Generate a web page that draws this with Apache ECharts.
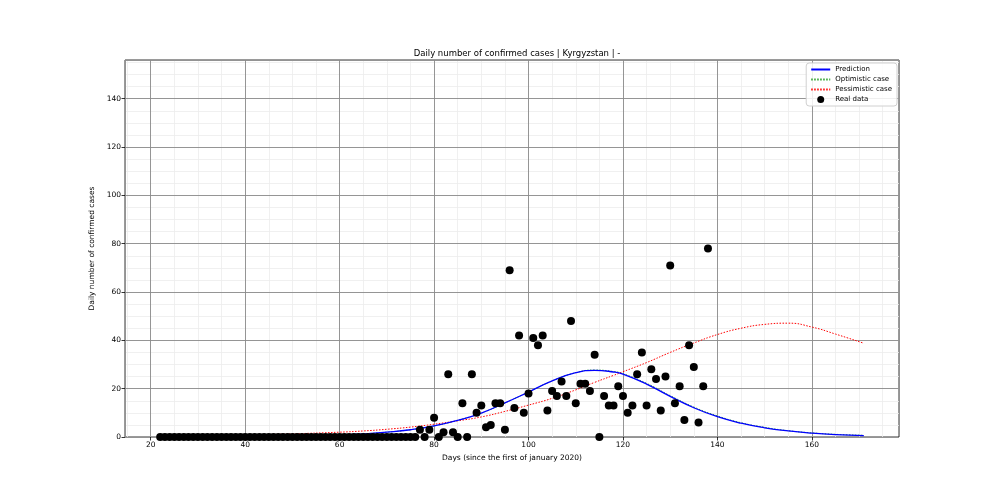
<!DOCTYPE html>
<html>
<head>
<meta charset="utf-8">
<script src="https://cdn.jsdelivr.net/npm/echarts@6/dist/echarts.min.js"></script>
<style>
  html, body { margin: 0; padding: 0; background: #fff; }
  #main { width: 1000px; height: 500px; }
</style>
</head>
<body>
<div id="main"></div>
<script>
// real data: one value per day, starting at day 22
const firstDay = 22;
const dailyCases = [
  0, 0, 0, 0, 0, 0, 0, 0, 0, 0, 0, 0, 0, 0, 0, 0, 0, 0, 0, 0,
  0, 0, 0, 0, 0, 0, 0, 0, 0, 0, 0, 0, 0, 0, 0, 0, 0, 0, 0, 0,
  0, 0, 0, 0, 0, 0, 0, 0, 0, 0, 0, 0, 0, 0, 0,
  3, 0, 3, 8, 0, 2, 26, 2, 0, 14, 0, 26, 10, 13, 4, 5, 14, 14, 3, 69,
  12, 42, 10, 18, 41, 38, 42, 11, 19, 17, 23, 17, 48, 14, 22, 22, 19, 34, 0, 17,
  13, 13, 21, 17, 10, 13, 26, 35, 13, 28, 24, 11, 25, 71, 14, 21, 7, 38, 29, 6,
  21, 78
];

// model curves
const curveDays = [22, 30, 40, 50, 60, 65, 70, 75, 80, 85, 90, 95, 100, 105, 110, 114,
  118, 120, 125, 130, 135, 140, 145, 150, 155, 160, 165, 171];
const prediction = [0.0, 0.1, 0.1, 0.3, 0.8, 1.3, 2.0, 3.0, 4.6, 6.9, 9.9, 14.1, 18.6, 23.2, 26.6, 27.6,
  26.9, 26.0, 21.9, 16.8, 12.1, 8.4, 5.7, 3.8, 2.5, 1.6, 1.0, 0.6];
const optimistic = [0.0, 0.1, 0.1, 0.3, 0.8, 1.3, 2.0, 3.0, 4.6, 6.9, 9.9, 14.1, 18.6, 23.2, 26.6, 27.7,
  27.1, 26.2, 22.2, 17.1, 12.4, 8.7, 5.9, 4.0, 2.6, 1.7, 1.1, 0.7];
const pessimistic = [0.3, 0.5, 0.8, 1.3, 2.0, 2.5, 3.2, 4.1, 5.3, 6.7, 8.3, 10.6, 13.2, 16.0, 19.5, 22.6,
  25.5, 27.0, 30.8, 35.0, 38.9, 42.4, 45.0, 46.6, 47.1, 45.5, 42.6, 38.8];

const xMin = 14.55, xMax = 178.45;
const yMax = 156;

const pairs = (xs, ys) => xs.map((x, i) => [x, ys[i]]);
const realData = dailyCases.map((v, i) => [firstDay + i, v]);

const font = 'DejaVu Sans';
const chart = echarts.init(document.getElementById('main'), null, { renderer: 'canvas' });

const gridPos = { left: 125, right: 101, top: 60, bottom: 63 };
const noSymbol = { opacity: 0, color: 'transparent', borderWidth: 0 };

chart.setOption({
  animation: false,
  backgroundColor: '#fff',
  textStyle: { fontFamily: font },
  title: {
    text: 'Daily number of confirmed cases | Kyrgyzstan | -',
    left: 512,
    top: 44,
    textAlign: 'center',
    textStyle: { fontSize: 8.5, fontWeight: 'normal', color: '#000', fontFamily: font }
  },
  legend: {
    orient: 'vertical',
    right: 103,
    top: 63,
    padding: [3, 5, 3, 4],
    itemGap: 3,
    itemWidth: 19,
    itemHeight: 7,
    backgroundColor: 'rgba(255,255,255,0.85)',
    borderColor: '#d0d0d0',
    borderWidth: 1,
    borderRadius: 3,
    textStyle: { fontSize: 7, color: '#000', fontFamily: font },
    data: [
      { name: 'Prediction', itemStyle: noSymbol },
      { name: 'Optimistic case', itemStyle: noSymbol },
      { name: 'Pessimistic case', itemStyle: noSymbol },
      { name: 'Real data', icon: 'circle' }
    ]
  },
  grid: Object.assign({ show: true, borderColor: '#000', borderWidth: 0.8, backgroundColor: 'transparent' }, gridPos),
  xAxis: [
    {
      type: 'value', min: xMin, max: xMax, splitNumber: 8,
      name: 'Days (since the first of january 2020)', nameLocation: 'middle', nameGap: 14,
      nameTextStyle: { fontSize: 7.5, color: '#000' },
      axisLine: { show: false },
      axisTick: { show: true, length: 3.5, lineStyle: { color: '#000', width: 0.8 } },
      axisLabel: { fontSize: 7.5, color: '#000', margin: 4, showMinLabel: false, showMaxLabel: false },
      splitLine: { show: true, lineStyle: { color: '#8a8a8a', width: 0.9 } },
      z: 3
    },
    {
      type: 'value', min: xMin, max: xMax, splitNumber: 32,
      axisLine: { show: false }, axisTick: { show: false }, axisLabel: { show: false },
      splitLine: { show: true, lineStyle: { color: '#ececec', width: 0.8 } },
      z: 1
    }
  ],
  yAxis: [
    {
      type: 'value', min: 0, max: yMax, interval: 20,
      name: 'Daily number of confirmed cases', nameLocation: 'middle', nameGap: 19,
      nameTextStyle: { fontSize: 7.5, color: '#000' },
      axisLine: { show: false },
      axisTick: { show: true, length: 3.5, lineStyle: { color: '#000', width: 0.8 } },
      axisLabel: { fontSize: 7.5, color: '#000', margin: 4, showMaxLabel: false },
      splitLine: { show: true, lineStyle: { color: '#8a8a8a', width: 0.9 } },
      z: 3
    },
    {
      type: 'value', min: 0, max: yMax, interval: 5,
      axisLine: { show: false }, axisTick: { show: false }, axisLabel: { show: false },
      splitLine: { show: true, lineStyle: { color: '#ececec', width: 0.8 } },
      z: 1
    }
  ],
  series: [
    {
      name: 'Prediction', type: 'line', smooth: true, showSymbol: false, symbol: 'none',
      data: pairs(curveDays, prediction),
      color: '#0000ff',
      lineStyle: { color: '#0000ff', width: 1.3 },
      z: 4
    },
    {
      name: 'Optimistic case', type: 'line', smooth: true, showSymbol: false, symbol: 'none',
      data: pairs(curveDays, optimistic),
      color: '#2ca02c',
      lineStyle: { color: '#2ca02c', width: 1, type: [1.5, 1.5] },
      z: 3
    },
    {
      name: 'Pessimistic case', type: 'line', smooth: true, showSymbol: false, symbol: 'none',
      data: pairs(curveDays, pessimistic),
      color: '#ff0000',
      lineStyle: { color: '#ff0000', width: 1, type: [1.5, 1.5] },
      z: 3
    },
    {
      name: 'Real data', type: 'scatter', symbol: 'circle', symbolSize: 8,
      data: realData,
      itemStyle: { color: '#000', opacity: 1 },
      z: 5
    }
  ]
});
</script>
</body>
</html>
